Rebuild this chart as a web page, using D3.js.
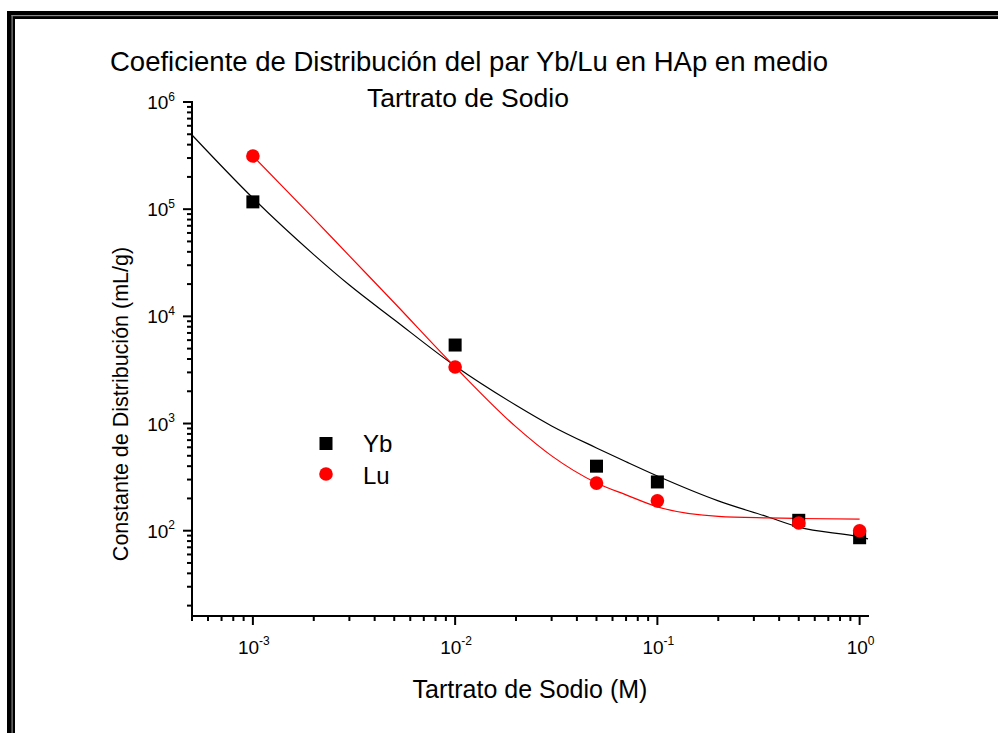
<!DOCTYPE html>
<html>
<head>
<meta charset="utf-8">
<script src="https://cdn.jsdelivr.net/npm/d3@7"></script>
<style>
  body { margin: 0; background: #fff; }
  text { font-family: "Liberation Sans", Arial, sans-serif; fill: #000; }
</style>
</head>
<body>
<script>
// measured points
const conc = [0.001, 0.01, 0.05, 0.1, 0.5, 1.0];
const ybValues = [117000, 5400, 400, 285, 125, 86];
const luValues = [313000, 3370, 278, 190, 118, 100];

// fitted curves
const ybFitX = [0.0005, 0.001, 0.002, 0.003, 0.005, 0.01, 0.02, 0.03, 0.05, 0.07, 0.1, 0.2, 0.35, 0.5, 1.0, 1.1];
const ybFitY = [492000, 127000, 37700, 19600, 9300, 3440, 1480, 950, 592, 440, 324, 190, 135, 108, 87.5, 84];
const luFitX = [0.001, 0.002, 0.003, 0.005, 0.01, 0.02, 0.03, 0.05, 0.07, 0.1, 0.2, 0.35, 0.5, 1.0];
const luFitY = [313000, 81700, 36700, 13400, 3370, 930, 499, 279, 216, 167, 136, 131.6, 130, 128];

const xTickValues = [0.001, 0.01, 0.1, 1];
const xTickExp = ["-3", "-2", "-1", "0"];
const yTickValues = [1e2, 1e3, 1e4, 1e5, 1e6];
const yTickExp = ["2", "3", "4", "5", "6"];

const title = ["Coeficiente de Distribución del par Yb/Lu en HAp en medio", "Tartrato de Sodio"];
const xTitle = "Tartrato de Sodio (M)";
const yTitle = "Constante de Distribución (mL/g)";
const seriesNames = ["Yb", "Lu"];

const W = 998, H = 733;
const svg = d3.select("body").append("svg")
  .attr("width", W)
  .attr("height", H);

svg.append("rect").attr("width", W).attr("height", H).attr("fill", "#fff");

// double frame round the page (top + left only visible)
svg.append("rect").attr("x", 7).attr("y", 11).attr("width", W + 20).attr("height", 8).attr("fill", "#000");
svg.append("rect").attr("x", 7).attr("y", 11).attr("width", 8).attr("height", H + 20).attr("fill", "#000");
svg.append("rect").attr("x", 11.5).attr("y", 15).attr("width", W + 20).attr("height", 1.2).attr("fill", "#888");
svg.append("rect").attr("x", 11.5).attr("y", 15).attr("width", 1.2).attr("height", H + 20).attr("fill", "#888");

const x = d3.scaleLog()
  .domain([0.0005, 1.1])
  .range([192, 868]);

const y = d3.scaleLog()
  .domain([16, 1e6])
  .range([616, 102]);

// minor ticks
const xMinor = [];
[0.0001, 0.001, 0.01, 0.1].forEach(d => {
  for (let k = 2; k <= 9; k++) {
    const v = d * k;
    if (v >= 0.0005 - 1e-9 && v <= 1.1) xMinor.push(v);
  }
});
const yMinor = [];
[10, 100, 1000, 10000, 100000].forEach(d => {
  for (let k = 2; k <= 9; k++) {
    const v = d * k;
    if (v >= 16 && v <= 1e6) yMinor.push(v);
  }
});

const axes = svg.append("g");

axes.selectAll(".xminor").data(xMinor).enter().append("line")
  .attr("x1", d => x(d)).attr("x2", d => x(d))
  .attr("y1", 616).attr("y2", 621)
  .attr("stroke", "#000").attr("stroke-width", 2);
axes.selectAll(".xmajor").data(xTickValues).enter().append("line")
  .attr("x1", d => x(d)).attr("x2", d => x(d))
  .attr("y1", 616).attr("y2", 625)
  .attr("stroke", "#000").attr("stroke-width", 2);

axes.selectAll(".yminor").data(yMinor).enter().append("line")
  .attr("x1", 192).attr("x2", 187)
  .attr("y1", d => y(d)).attr("y2", d => y(d))
  .attr("stroke", "#000").attr("stroke-width", 2);
axes.selectAll(".ymajor").data(yTickValues).enter().append("line")
  .attr("x1", 192).attr("x2", 183)
  .attr("y1", d => y(d)).attr("y2", d => y(d))
  .attr("stroke", "#000").attr("stroke-width", 2);

// axis lines
axes.append("line").attr("x1", 192).attr("x2", 192).attr("y1", 101).attr("y2", 617)
  .attr("stroke", "#000").attr("stroke-width", 2);
axes.append("line").attr("x1", 191).attr("x2", 869).attr("y1", 616).attr("y2", 616)
  .attr("stroke", "#000").attr("stroke-width", 2);

// tick labels
const xl = axes.selectAll(".xlab").data(xTickValues).enter().append("text")
  .attr("x", d => x(d) + 1)
  .attr("y", 654)
  .attr("text-anchor", "middle")
  .style("font-size", "19px");
xl.append("tspan").text("10");
xl.append("tspan").attr("dy", -9).style("font-size", "12px").text((d, i) => xTickExp[i]);

const yl = axes.selectAll(".ylab").data(yTickValues).enter().append("text")
  .attr("x", 175)
  .attr("y", d => y(d) + 7)
  .attr("text-anchor", "end")
  .style("font-size", "19px");
yl.append("tspan").text("10");
yl.append("tspan").attr("dy", -8.5).style("font-size", "12px").text((d, i) => yTickExp[i]);

// titles
svg.append("text").attr("x", 469).attr("y", 71).attr("text-anchor", "middle")
  .style("font-size", "27.5px").text(title[0]);
svg.append("text").attr("x", 468).attr("y", 107).attr("text-anchor", "middle")
  .style("font-size", "26.5px").text(title[1]);
svg.append("text").attr("x", 530).attr("y", 698).attr("text-anchor", "middle")
  .style("font-size", "25px").text(xTitle);
svg.append("text")
  .attr("transform", "translate(128,404) rotate(-90)")
  .attr("text-anchor", "middle")
  .style("font-size", "21.5px").text(yTitle);

// fit lines
const line = d3.line().x(d => x(d[0])).y(d => y(d[1])).curve(d3.curveMonotoneX);
svg.append("path")
  .attr("d", line(ybFitX.map((v, i) => [v, ybFitY[i]])))
  .attr("fill", "none").attr("stroke", "#000").attr("stroke-width", 1.2);
svg.append("path")
  .attr("d", line(luFitX.map((v, i) => [v, luFitY[i]])))
  .attr("fill", "none").attr("stroke", "#ff0000").attr("stroke-width", 1.2);

// markers
svg.selectAll(".yb").data(conc).enter().append("rect")
  .attr("x", d => x(d) - 6.5)
  .attr("y", (d, i) => y(ybValues[i]) - 6.5)
  .attr("width", 13).attr("height", 13)
  .attr("fill", "#000");
svg.selectAll(".lu").data(conc).enter().append("circle")
  .attr("cx", d => x(d))
  .attr("cy", (d, i) => y(luValues[i]))
  .attr("r", 6.8)
  .attr("fill", "#ff0000");

// legend
const lg = svg.append("g");
lg.append("rect").attr("x", 319.5).attr("y", 437).attr("width", 13).attr("height", 13).attr("fill", "#000");
lg.append("circle").attr("cx", 326).attr("cy", 474).attr("r", 6.8).attr("fill", "#ff0000");
lg.append("text").attr("x", 363).attr("y", 452).style("font-size", "24px").text(seriesNames[0]);
lg.append("text").attr("x", 363).attr("y", 484).style("font-size", "24px").text(seriesNames[1]);
</script>
</body>
</html>
